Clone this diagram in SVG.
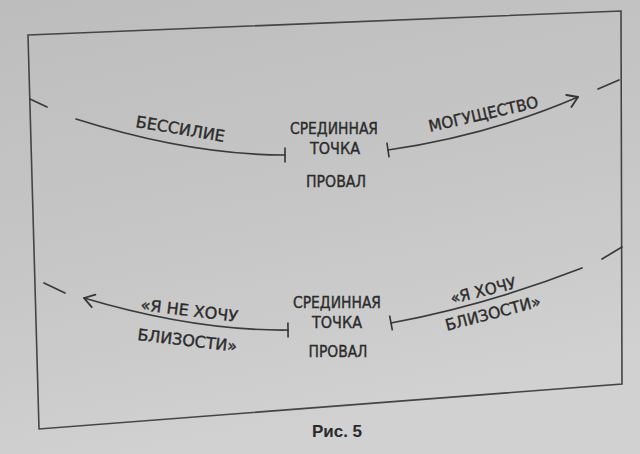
<svg xmlns="http://www.w3.org/2000/svg" width="640" height="454" viewBox="0 0 640 454">
  <defs>
    <linearGradient id="paper" x1="0" y1="0" x2="0.3" y2="1">
      <stop offset="0" stop-color="#bdbdbd"/>
      <stop offset="0.6" stop-color="#c7c7c7"/>
      <stop offset="1" stop-color="#d1d1d1"/>
    </linearGradient>
    <marker id="arrow" markerUnits="userSpaceOnUse" viewBox="-12 -8 14 16" refX="0" refY="0" markerWidth="14" markerHeight="16" orient="auto">
      <path d="M-10,-6.5 L0,0 L-10,6.5" fill="none" stroke="#333" stroke-width="1.8" stroke-linecap="round" stroke-linejoin="round"/>
    </marker>
    <marker id="tick" markerUnits="userSpaceOnUse" viewBox="-3 -9 6 18" refX="0" refY="0" markerWidth="6" markerHeight="18" orient="auto">
      <path d="M0,-7.5 L0,7.5" stroke="#333" stroke-width="1.6"/>
    </marker>
  </defs>
  <style>
    .hand { font-family: "DejaVu Sans Condensed", "DejaVu Sans", sans-serif; font-size: 16px; fill: #2b2b2b; stroke: #2b2b2b; stroke-width: 0.35; }
    .mid { text-anchor: middle; }
    .conn { fill: none; stroke: #3a3a3a; stroke-width: 1.7; stroke-linecap: round; }
    .frame { fill: none; stroke: #444; stroke-width: 1.6; }
    .cap { font-family: "Liberation Sans", Arial, sans-serif; font-weight: bold; font-size: 17px; fill: #2a2a2a; text-anchor: middle; }
  </style>
  <rect x="0" y="0" width="640" height="454" fill="url(#paper)"/>
  <polygon id="frame" class="frame" points="28,35 621,11 622,384 39,429"/>

  <g id="connectors">
    <path class="conn" d="M285,155 Q190,155 76,119" marker-start="url(#tick)"/>
    <path class="conn" d="M388,150 Q490,135 578,97" marker-start="url(#tick)" marker-end="url(#arrow)"/>
    <path class="conn" d="M288,330 Q195,331 84,298" marker-start="url(#tick)" marker-end="url(#arrow)"/>
    <path class="conn" d="M391,323 Q487,305 582,268" marker-start="url(#tick)"/>
    <line class="conn" x1="30" y1="99" x2="47" y2="107"/>
    <line class="conn" x1="598" y1="89" x2="619" y2="80"/>
    <line class="conn" x1="44" y1="283" x2="65" y2="293"/>
    <line class="conn" x1="602" y1="259" x2="622" y2="247"/>
  </g>

  <g id="node-top-center">
    <text class="hand mid" x="334" y="134" textLength="88" lengthAdjust="spacingAndGlyphs">СРЕДИННАЯ</text>
    <text class="hand mid" x="335" y="154" textLength="50" lengthAdjust="spacingAndGlyphs">ТОЧКА</text>
    <text class="hand mid" x="336" y="187" textLength="60" lengthAdjust="spacingAndGlyphs">ПРОВАЛ</text>
  </g>
  <g id="node-weakness">
    <text class="hand" transform="translate(135,127) rotate(9.5)" textLength="90" lengthAdjust="spacingAndGlyphs">БЕССИЛИЕ</text>
  </g>
  <g id="node-power">
    <text class="hand" transform="translate(430,132) rotate(-12.8)" textLength="112" lengthAdjust="spacingAndGlyphs">МОГУЩЕСТВО</text>
  </g>

  <g id="node-bottom-center">
    <text class="hand mid" x="337" y="308" textLength="88" lengthAdjust="spacingAndGlyphs">СРЕДИННАЯ</text>
    <text class="hand mid" x="337" y="328" textLength="50" lengthAdjust="spacingAndGlyphs">ТОЧКА</text>
    <text class="hand mid" x="338" y="357" textLength="59" lengthAdjust="spacingAndGlyphs">ПРОВАЛ</text>
  </g>
  <g id="node-no-closeness">
    <text class="hand" transform="translate(140,310) rotate(7)" textLength="98" lengthAdjust="spacingAndGlyphs">«Я НЕ ХОЧУ</text>
    <text class="hand" transform="translate(137,340) rotate(6.8)" textLength="100" lengthAdjust="spacingAndGlyphs">БЛИЗОСТИ»</text>
  </g>
  <g id="node-closeness">
    <text class="hand" transform="translate(452,304) rotate(-13.8)" textLength="67" lengthAdjust="spacingAndGlyphs">«Я ХОЧУ</text>
    <text class="hand" transform="translate(447,331) rotate(-14.7)" textLength="98" lengthAdjust="spacingAndGlyphs">БЛИЗОСТИ»</text>
  </g>

  <text id="caption" class="cap" x="337" y="437">Рис. 5</text>
</svg>
